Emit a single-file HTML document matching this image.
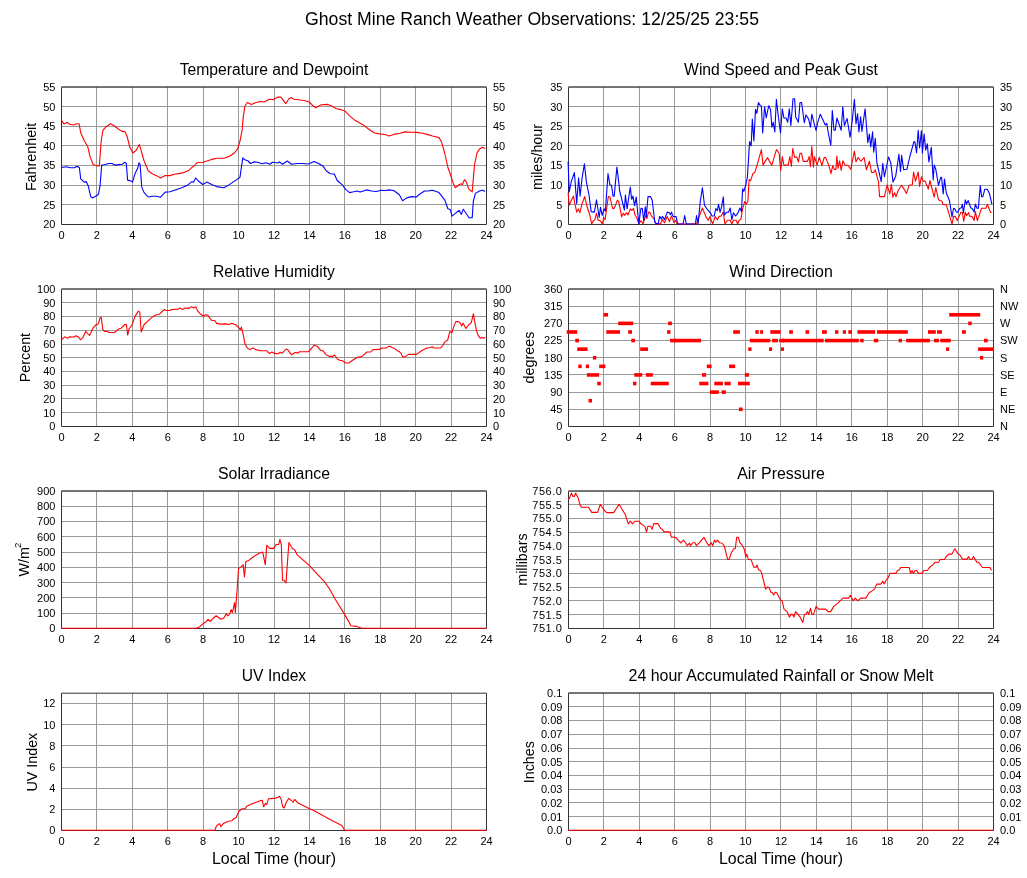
<!DOCTYPE html>
<html><head><meta charset="utf-8"><title>Ghost Mine Ranch Weather Observations</title>
<style>html,body{margin:0;padding:0;background:#fff;width:1027px;height:878px;overflow:hidden}</style></head>
<body>
<svg width="1027" height="878" viewBox="0 0 1027 878" style="font-family:'Liberation Sans',Arial,Helvetica,sans-serif;display:block" fill="#000">
<rect width="1027" height="878" fill="#fff"/>
<text x="532" y="25" font-size="18" text-anchor="middle" textLength="453.9" lengthAdjust="spacingAndGlyphs">Ghost Mine Ranch Weather Observations: 12/25/25 23:55</text>
<g stroke="#999" stroke-width="1">
<line x1="96.5" y1="87" x2="96.5" y2="224.5"/>
<line x1="132.5" y1="87" x2="132.5" y2="224.5"/>
<line x1="167.5" y1="87" x2="167.5" y2="224.5"/>
<line x1="203.5" y1="87" x2="203.5" y2="224.5"/>
<line x1="238.5" y1="87" x2="238.5" y2="224.5"/>
<line x1="274.5" y1="87" x2="274.5" y2="224.5"/>
<line x1="309.5" y1="87" x2="309.5" y2="224.5"/>
<line x1="344.5" y1="87" x2="344.5" y2="224.5"/>
<line x1="380.5" y1="87" x2="380.5" y2="224.5"/>
<line x1="415.5" y1="87" x2="415.5" y2="224.5"/>
<line x1="451.5" y1="87" x2="451.5" y2="224.5"/>
<line x1="61.5" y1="204.5" x2="486.5" y2="204.5"/>
<line x1="61.5" y1="185.5" x2="486.5" y2="185.5"/>
<line x1="61.5" y1="165.5" x2="486.5" y2="165.5"/>
<line x1="61.5" y1="145.5" x2="486.5" y2="145.5"/>
<line x1="61.5" y1="126.5" x2="486.5" y2="126.5"/>
<line x1="61.5" y1="106.5" x2="486.5" y2="106.5"/>
<line x1="61.5" y1="86.5" x2="486.5" y2="86.5"/>
</g>
<path d="M61.5,87.2H486.5V224.5H61.5Z" fill="none" stroke="#333" stroke-width="1"/>
<g font-size="11">
<text x="55.4" y="228.4" text-anchor="end">20</text>
<text x="493" y="228.4">20</text>
<text x="55.4" y="208.76" text-anchor="end">25</text>
<text x="493" y="208.76">25</text>
<text x="55.4" y="189.11" text-anchor="end">30</text>
<text x="493" y="189.11">30</text>
<text x="55.4" y="169.47" text-anchor="end">35</text>
<text x="493" y="169.47">35</text>
<text x="55.4" y="149.83" text-anchor="end">40</text>
<text x="493" y="149.83">40</text>
<text x="55.4" y="130.19" text-anchor="end">45</text>
<text x="493" y="130.19">45</text>
<text x="55.4" y="110.54" text-anchor="end">50</text>
<text x="493" y="110.54">50</text>
<text x="55.4" y="90.9" text-anchor="end">55</text>
<text x="493" y="90.9">55</text>
<text x="61.5" y="239.2" text-anchor="middle">0</text>
<text x="96.92" y="239.2" text-anchor="middle">2</text>
<text x="132.33" y="239.2" text-anchor="middle">4</text>
<text x="167.75" y="239.2" text-anchor="middle">6</text>
<text x="203.17" y="239.2" text-anchor="middle">8</text>
<text x="238.58" y="239.2" text-anchor="middle">10</text>
<text x="274" y="239.2" text-anchor="middle">12</text>
<text x="309.42" y="239.2" text-anchor="middle">14</text>
<text x="344.83" y="239.2" text-anchor="middle">16</text>
<text x="380.25" y="239.2" text-anchor="middle">18</text>
<text x="415.67" y="239.2" text-anchor="middle">20</text>
<text x="451.08" y="239.2" text-anchor="middle">22</text>
<text x="486.5" y="239.2" text-anchor="middle">24</text>
</g>
<text x="274" y="75" font-size="15.8" text-anchor="middle" textLength="188.7" lengthAdjust="spacingAndGlyphs">Temperature and Dewpoint</text>
<text transform="translate(35.5,156.95) rotate(-90)" font-size="14.3" text-anchor="middle">Fahrenheit</text>
<g stroke="#999" stroke-width="1">
<line x1="603.5" y1="87" x2="603.5" y2="224.5"/>
<line x1="639.5" y1="87" x2="639.5" y2="224.5"/>
<line x1="674.5" y1="87" x2="674.5" y2="224.5"/>
<line x1="710.5" y1="87" x2="710.5" y2="224.5"/>
<line x1="745.5" y1="87" x2="745.5" y2="224.5"/>
<line x1="780.5" y1="87" x2="780.5" y2="224.5"/>
<line x1="816.5" y1="87" x2="816.5" y2="224.5"/>
<line x1="851.5" y1="87" x2="851.5" y2="224.5"/>
<line x1="887.5" y1="87" x2="887.5" y2="224.5"/>
<line x1="922.5" y1="87" x2="922.5" y2="224.5"/>
<line x1="958.5" y1="87" x2="958.5" y2="224.5"/>
<line x1="568.5" y1="204.5" x2="993.5" y2="204.5"/>
<line x1="568.5" y1="185.5" x2="993.5" y2="185.5"/>
<line x1="568.5" y1="165.5" x2="993.5" y2="165.5"/>
<line x1="568.5" y1="145.5" x2="993.5" y2="145.5"/>
<line x1="568.5" y1="126.5" x2="993.5" y2="126.5"/>
<line x1="568.5" y1="106.5" x2="993.5" y2="106.5"/>
<line x1="568.5" y1="86.5" x2="993.5" y2="86.5"/>
</g>
<path d="M568.5,87.2H993.5V224.5H568.5Z" fill="none" stroke="#333" stroke-width="1"/>
<g font-size="11">
<text x="562.4" y="228.4" text-anchor="end">0</text>
<text x="1000" y="228.4">0</text>
<text x="562.4" y="208.76" text-anchor="end">5</text>
<text x="1000" y="208.76">5</text>
<text x="562.4" y="189.11" text-anchor="end">10</text>
<text x="1000" y="189.11">10</text>
<text x="562.4" y="169.47" text-anchor="end">15</text>
<text x="1000" y="169.47">15</text>
<text x="562.4" y="149.83" text-anchor="end">20</text>
<text x="1000" y="149.83">20</text>
<text x="562.4" y="130.19" text-anchor="end">25</text>
<text x="1000" y="130.19">25</text>
<text x="562.4" y="110.54" text-anchor="end">30</text>
<text x="1000" y="110.54">30</text>
<text x="562.4" y="90.9" text-anchor="end">35</text>
<text x="1000" y="90.9">35</text>
<text x="568.5" y="239.2" text-anchor="middle">0</text>
<text x="603.92" y="239.2" text-anchor="middle">2</text>
<text x="639.33" y="239.2" text-anchor="middle">4</text>
<text x="674.75" y="239.2" text-anchor="middle">6</text>
<text x="710.17" y="239.2" text-anchor="middle">8</text>
<text x="745.58" y="239.2" text-anchor="middle">10</text>
<text x="781" y="239.2" text-anchor="middle">12</text>
<text x="816.42" y="239.2" text-anchor="middle">14</text>
<text x="851.83" y="239.2" text-anchor="middle">16</text>
<text x="887.25" y="239.2" text-anchor="middle">18</text>
<text x="922.67" y="239.2" text-anchor="middle">20</text>
<text x="958.08" y="239.2" text-anchor="middle">22</text>
<text x="993.5" y="239.2" text-anchor="middle">24</text>
</g>
<text x="781" y="75" font-size="15.8" text-anchor="middle" textLength="193.9" lengthAdjust="spacingAndGlyphs">Wind Speed and Peak Gust</text>
<text transform="translate(542,156.95) rotate(-90)" font-size="14.3" text-anchor="middle">miles/hour</text>
<g stroke="#999" stroke-width="1">
<line x1="96.5" y1="289" x2="96.5" y2="426.5"/>
<line x1="132.5" y1="289" x2="132.5" y2="426.5"/>
<line x1="167.5" y1="289" x2="167.5" y2="426.5"/>
<line x1="203.5" y1="289" x2="203.5" y2="426.5"/>
<line x1="238.5" y1="289" x2="238.5" y2="426.5"/>
<line x1="274.5" y1="289" x2="274.5" y2="426.5"/>
<line x1="309.5" y1="289" x2="309.5" y2="426.5"/>
<line x1="344.5" y1="289" x2="344.5" y2="426.5"/>
<line x1="380.5" y1="289" x2="380.5" y2="426.5"/>
<line x1="415.5" y1="289" x2="415.5" y2="426.5"/>
<line x1="451.5" y1="289" x2="451.5" y2="426.5"/>
<line x1="61.5" y1="412.5" x2="486.5" y2="412.5"/>
<line x1="61.5" y1="398.5" x2="486.5" y2="398.5"/>
<line x1="61.5" y1="385.5" x2="486.5" y2="385.5"/>
<line x1="61.5" y1="371.5" x2="486.5" y2="371.5"/>
<line x1="61.5" y1="357.5" x2="486.5" y2="357.5"/>
<line x1="61.5" y1="344.5" x2="486.5" y2="344.5"/>
<line x1="61.5" y1="330.5" x2="486.5" y2="330.5"/>
<line x1="61.5" y1="316.5" x2="486.5" y2="316.5"/>
<line x1="61.5" y1="302.5" x2="486.5" y2="302.5"/>
<line x1="61.5" y1="288.5" x2="486.5" y2="288.5"/>
</g>
<path d="M61.5,289.2H486.5V426.5H61.5Z" fill="none" stroke="#333" stroke-width="1"/>
<g font-size="11">
<text x="55.4" y="430.4" text-anchor="end">0</text>
<text x="493" y="430.4">0</text>
<text x="55.4" y="416.65" text-anchor="end">10</text>
<text x="493" y="416.65">10</text>
<text x="55.4" y="402.9" text-anchor="end">20</text>
<text x="493" y="402.9">20</text>
<text x="55.4" y="389.15" text-anchor="end">30</text>
<text x="493" y="389.15">30</text>
<text x="55.4" y="375.4" text-anchor="end">40</text>
<text x="493" y="375.4">40</text>
<text x="55.4" y="361.65" text-anchor="end">50</text>
<text x="493" y="361.65">50</text>
<text x="55.4" y="347.9" text-anchor="end">60</text>
<text x="493" y="347.9">60</text>
<text x="55.4" y="334.15" text-anchor="end">70</text>
<text x="493" y="334.15">70</text>
<text x="55.4" y="320.4" text-anchor="end">80</text>
<text x="493" y="320.4">80</text>
<text x="55.4" y="306.65" text-anchor="end">90</text>
<text x="493" y="306.65">90</text>
<text x="55.4" y="292.9" text-anchor="end">100</text>
<text x="493" y="292.9">100</text>
<text x="61.5" y="441.2" text-anchor="middle">0</text>
<text x="96.92" y="441.2" text-anchor="middle">2</text>
<text x="132.33" y="441.2" text-anchor="middle">4</text>
<text x="167.75" y="441.2" text-anchor="middle">6</text>
<text x="203.17" y="441.2" text-anchor="middle">8</text>
<text x="238.58" y="441.2" text-anchor="middle">10</text>
<text x="274" y="441.2" text-anchor="middle">12</text>
<text x="309.42" y="441.2" text-anchor="middle">14</text>
<text x="344.83" y="441.2" text-anchor="middle">16</text>
<text x="380.25" y="441.2" text-anchor="middle">18</text>
<text x="415.67" y="441.2" text-anchor="middle">20</text>
<text x="451.08" y="441.2" text-anchor="middle">22</text>
<text x="486.5" y="441.2" text-anchor="middle">24</text>
</g>
<text x="274" y="277" font-size="15.8" text-anchor="middle" textLength="121.9" lengthAdjust="spacingAndGlyphs">Relative Humidity</text>
<text transform="translate(30,357.55) rotate(-90)" font-size="14.3" text-anchor="middle">Percent</text>
<g stroke="#999" stroke-width="1">
<line x1="603.5" y1="289" x2="603.5" y2="426.5"/>
<line x1="639.5" y1="289" x2="639.5" y2="426.5"/>
<line x1="674.5" y1="289" x2="674.5" y2="426.5"/>
<line x1="710.5" y1="289" x2="710.5" y2="426.5"/>
<line x1="745.5" y1="289" x2="745.5" y2="426.5"/>
<line x1="780.5" y1="289" x2="780.5" y2="426.5"/>
<line x1="816.5" y1="289" x2="816.5" y2="426.5"/>
<line x1="851.5" y1="289" x2="851.5" y2="426.5"/>
<line x1="887.5" y1="289" x2="887.5" y2="426.5"/>
<line x1="922.5" y1="289" x2="922.5" y2="426.5"/>
<line x1="958.5" y1="289" x2="958.5" y2="426.5"/>
<line x1="568.5" y1="409.5" x2="993.5" y2="409.5"/>
<line x1="568.5" y1="392.5" x2="993.5" y2="392.5"/>
<line x1="568.5" y1="374.5" x2="993.5" y2="374.5"/>
<line x1="568.5" y1="357.5" x2="993.5" y2="357.5"/>
<line x1="568.5" y1="340.5" x2="993.5" y2="340.5"/>
<line x1="568.5" y1="323.5" x2="993.5" y2="323.5"/>
<line x1="568.5" y1="306.5" x2="993.5" y2="306.5"/>
<line x1="568.5" y1="288.5" x2="993.5" y2="288.5"/>
</g>
<path d="M568.5,289.2H993.5V426.5H568.5Z" fill="none" stroke="#333" stroke-width="1"/>
<g font-size="11">
<text x="562.4" y="430.4" text-anchor="end">0</text>
<text x="1000" y="430.4">N</text>
<text x="562.4" y="413.21" text-anchor="end">45</text>
<text x="1000" y="413.21">NE</text>
<text x="562.4" y="396.02" text-anchor="end">90</text>
<text x="1000" y="396.02">E</text>
<text x="562.4" y="378.84" text-anchor="end">135</text>
<text x="1000" y="378.84">SE</text>
<text x="562.4" y="361.65" text-anchor="end">180</text>
<text x="1000" y="361.65">S</text>
<text x="562.4" y="344.46" text-anchor="end">225</text>
<text x="1000" y="344.46">SW</text>
<text x="562.4" y="327.27" text-anchor="end">270</text>
<text x="1000" y="327.27">W</text>
<text x="562.4" y="310.09" text-anchor="end">315</text>
<text x="1000" y="310.09">NW</text>
<text x="562.4" y="292.9" text-anchor="end">360</text>
<text x="1000" y="292.9">N</text>
<text x="568.5" y="441.2" text-anchor="middle">0</text>
<text x="603.92" y="441.2" text-anchor="middle">2</text>
<text x="639.33" y="441.2" text-anchor="middle">4</text>
<text x="674.75" y="441.2" text-anchor="middle">6</text>
<text x="710.17" y="441.2" text-anchor="middle">8</text>
<text x="745.58" y="441.2" text-anchor="middle">10</text>
<text x="781" y="441.2" text-anchor="middle">12</text>
<text x="816.42" y="441.2" text-anchor="middle">14</text>
<text x="851.83" y="441.2" text-anchor="middle">16</text>
<text x="887.25" y="441.2" text-anchor="middle">18</text>
<text x="922.67" y="441.2" text-anchor="middle">20</text>
<text x="958.08" y="441.2" text-anchor="middle">22</text>
<text x="993.5" y="441.2" text-anchor="middle">24</text>
</g>
<text x="781" y="277" font-size="15.8" text-anchor="middle" textLength="103.5" lengthAdjust="spacingAndGlyphs">Wind Direction</text>
<text transform="translate(534,357.55) rotate(-90)" font-size="14.3" text-anchor="middle">degrees</text>
<g stroke="#999" stroke-width="1">
<line x1="96.5" y1="491" x2="96.5" y2="628.5"/>
<line x1="132.5" y1="491" x2="132.5" y2="628.5"/>
<line x1="167.5" y1="491" x2="167.5" y2="628.5"/>
<line x1="203.5" y1="491" x2="203.5" y2="628.5"/>
<line x1="238.5" y1="491" x2="238.5" y2="628.5"/>
<line x1="274.5" y1="491" x2="274.5" y2="628.5"/>
<line x1="309.5" y1="491" x2="309.5" y2="628.5"/>
<line x1="344.5" y1="491" x2="344.5" y2="628.5"/>
<line x1="380.5" y1="491" x2="380.5" y2="628.5"/>
<line x1="415.5" y1="491" x2="415.5" y2="628.5"/>
<line x1="451.5" y1="491" x2="451.5" y2="628.5"/>
<line x1="61.5" y1="613.5" x2="486.5" y2="613.5"/>
<line x1="61.5" y1="597.5" x2="486.5" y2="597.5"/>
<line x1="61.5" y1="582.5" x2="486.5" y2="582.5"/>
<line x1="61.5" y1="567.5" x2="486.5" y2="567.5"/>
<line x1="61.5" y1="552.5" x2="486.5" y2="552.5"/>
<line x1="61.5" y1="536.5" x2="486.5" y2="536.5"/>
<line x1="61.5" y1="521.5" x2="486.5" y2="521.5"/>
<line x1="61.5" y1="506.5" x2="486.5" y2="506.5"/>
<line x1="61.5" y1="490.5" x2="486.5" y2="490.5"/>
</g>
<path d="M61.5,491.2H486.5V628.5H61.5Z" fill="none" stroke="#333" stroke-width="1"/>
<g font-size="11">
<text x="55.4" y="632.4" text-anchor="end">0</text>
<text x="55.4" y="617.12" text-anchor="end">100</text>
<text x="55.4" y="601.84" text-anchor="end">200</text>
<text x="55.4" y="586.57" text-anchor="end">300</text>
<text x="55.4" y="571.29" text-anchor="end">400</text>
<text x="55.4" y="556.01" text-anchor="end">500</text>
<text x="55.4" y="540.73" text-anchor="end">600</text>
<text x="55.4" y="525.46" text-anchor="end">700</text>
<text x="55.4" y="510.18" text-anchor="end">800</text>
<text x="55.4" y="494.9" text-anchor="end">900</text>
<text x="61.5" y="643.2" text-anchor="middle">0</text>
<text x="96.92" y="643.2" text-anchor="middle">2</text>
<text x="132.33" y="643.2" text-anchor="middle">4</text>
<text x="167.75" y="643.2" text-anchor="middle">6</text>
<text x="203.17" y="643.2" text-anchor="middle">8</text>
<text x="238.58" y="643.2" text-anchor="middle">10</text>
<text x="274" y="643.2" text-anchor="middle">12</text>
<text x="309.42" y="643.2" text-anchor="middle">14</text>
<text x="344.83" y="643.2" text-anchor="middle">16</text>
<text x="380.25" y="643.2" text-anchor="middle">18</text>
<text x="415.67" y="643.2" text-anchor="middle">20</text>
<text x="451.08" y="643.2" text-anchor="middle">22</text>
<text x="486.5" y="643.2" text-anchor="middle">24</text>
</g>
<text x="274" y="479" font-size="15.8" text-anchor="middle" textLength="111.9" lengthAdjust="spacingAndGlyphs">Solar Irradiance</text>
<text transform="translate(29.1,559.55) rotate(-90)" font-size="14.3" text-anchor="middle">W/m<tspan font-size="9.6" dx="-1" dy="-8">2</tspan></text>
<g stroke="#999" stroke-width="1">
<line x1="603.5" y1="491" x2="603.5" y2="628.5"/>
<line x1="639.5" y1="491" x2="639.5" y2="628.5"/>
<line x1="674.5" y1="491" x2="674.5" y2="628.5"/>
<line x1="710.5" y1="491" x2="710.5" y2="628.5"/>
<line x1="745.5" y1="491" x2="745.5" y2="628.5"/>
<line x1="780.5" y1="491" x2="780.5" y2="628.5"/>
<line x1="816.5" y1="491" x2="816.5" y2="628.5"/>
<line x1="851.5" y1="491" x2="851.5" y2="628.5"/>
<line x1="887.5" y1="491" x2="887.5" y2="628.5"/>
<line x1="922.5" y1="491" x2="922.5" y2="628.5"/>
<line x1="958.5" y1="491" x2="958.5" y2="628.5"/>
<line x1="568.5" y1="614.5" x2="993.5" y2="614.5"/>
<line x1="568.5" y1="600.5" x2="993.5" y2="600.5"/>
<line x1="568.5" y1="587.5" x2="993.5" y2="587.5"/>
<line x1="568.5" y1="573.5" x2="993.5" y2="573.5"/>
<line x1="568.5" y1="559.5" x2="993.5" y2="559.5"/>
<line x1="568.5" y1="546.5" x2="993.5" y2="546.5"/>
<line x1="568.5" y1="532.5" x2="993.5" y2="532.5"/>
<line x1="568.5" y1="518.5" x2="993.5" y2="518.5"/>
<line x1="568.5" y1="504.5" x2="993.5" y2="504.5"/>
<line x1="568.5" y1="490.5" x2="993.5" y2="490.5"/>
</g>
<path d="M568.5,491.2H993.5V628.5H568.5Z" fill="none" stroke="#333" stroke-width="1"/>
<g font-size="11">
<text x="562.4" y="632.4" text-anchor="end" letter-spacing="0.5">751.0</text>
<text x="562.4" y="618.65" text-anchor="end" letter-spacing="0.5">751.5</text>
<text x="562.4" y="604.9" text-anchor="end" letter-spacing="0.5">752.0</text>
<text x="562.4" y="591.15" text-anchor="end" letter-spacing="0.5">752.5</text>
<text x="562.4" y="577.4" text-anchor="end" letter-spacing="0.5">753.0</text>
<text x="562.4" y="563.65" text-anchor="end" letter-spacing="0.5">753.5</text>
<text x="562.4" y="549.9" text-anchor="end" letter-spacing="0.5">754.0</text>
<text x="562.4" y="536.15" text-anchor="end" letter-spacing="0.5">754.5</text>
<text x="562.4" y="522.4" text-anchor="end" letter-spacing="0.5">755.0</text>
<text x="562.4" y="508.65" text-anchor="end" letter-spacing="0.5">755.5</text>
<text x="562.4" y="494.9" text-anchor="end" letter-spacing="0.5">756.0</text>
<text x="568.5" y="643.2" text-anchor="middle">0</text>
<text x="603.92" y="643.2" text-anchor="middle">2</text>
<text x="639.33" y="643.2" text-anchor="middle">4</text>
<text x="674.75" y="643.2" text-anchor="middle">6</text>
<text x="710.17" y="643.2" text-anchor="middle">8</text>
<text x="745.58" y="643.2" text-anchor="middle">10</text>
<text x="781" y="643.2" text-anchor="middle">12</text>
<text x="816.42" y="643.2" text-anchor="middle">14</text>
<text x="851.83" y="643.2" text-anchor="middle">16</text>
<text x="887.25" y="643.2" text-anchor="middle">18</text>
<text x="922.67" y="643.2" text-anchor="middle">20</text>
<text x="958.08" y="643.2" text-anchor="middle">22</text>
<text x="993.5" y="643.2" text-anchor="middle">24</text>
</g>
<text x="781" y="479" font-size="15.8" text-anchor="middle" textLength="87.6" lengthAdjust="spacingAndGlyphs">Air Pressure</text>
<text transform="translate(527,559.55) rotate(-90)" font-size="14.3" text-anchor="middle">millibars</text>
<g stroke="#999" stroke-width="1">
<line x1="96.5" y1="693" x2="96.5" y2="830.5"/>
<line x1="132.5" y1="693" x2="132.5" y2="830.5"/>
<line x1="167.5" y1="693" x2="167.5" y2="830.5"/>
<line x1="203.5" y1="693" x2="203.5" y2="830.5"/>
<line x1="238.5" y1="693" x2="238.5" y2="830.5"/>
<line x1="274.5" y1="693" x2="274.5" y2="830.5"/>
<line x1="309.5" y1="693" x2="309.5" y2="830.5"/>
<line x1="344.5" y1="693" x2="344.5" y2="830.5"/>
<line x1="380.5" y1="693" x2="380.5" y2="830.5"/>
<line x1="415.5" y1="693" x2="415.5" y2="830.5"/>
<line x1="451.5" y1="693" x2="451.5" y2="830.5"/>
<line x1="61.5" y1="809.5" x2="486.5" y2="809.5"/>
<line x1="61.5" y1="788.5" x2="486.5" y2="788.5"/>
<line x1="61.5" y1="767.5" x2="486.5" y2="767.5"/>
<line x1="61.5" y1="745.5" x2="486.5" y2="745.5"/>
<line x1="61.5" y1="724.5" x2="486.5" y2="724.5"/>
<line x1="61.5" y1="703.5" x2="486.5" y2="703.5"/>
</g>
<path d="M61.5,693.2H486.5V830.5H61.5Z" fill="none" stroke="#333" stroke-width="1"/>
<g font-size="11">
<text x="55.4" y="834.4" text-anchor="end">0</text>
<text x="55.4" y="813.25" text-anchor="end">2</text>
<text x="55.4" y="792.09" text-anchor="end">4</text>
<text x="55.4" y="770.94" text-anchor="end">6</text>
<text x="55.4" y="749.78" text-anchor="end">8</text>
<text x="55.4" y="728.63" text-anchor="end">10</text>
<text x="55.4" y="707.48" text-anchor="end">12</text>
<text x="61.5" y="845.2" text-anchor="middle">0</text>
<text x="96.92" y="845.2" text-anchor="middle">2</text>
<text x="132.33" y="845.2" text-anchor="middle">4</text>
<text x="167.75" y="845.2" text-anchor="middle">6</text>
<text x="203.17" y="845.2" text-anchor="middle">8</text>
<text x="238.58" y="845.2" text-anchor="middle">10</text>
<text x="274" y="845.2" text-anchor="middle">12</text>
<text x="309.42" y="845.2" text-anchor="middle">14</text>
<text x="344.83" y="845.2" text-anchor="middle">16</text>
<text x="380.25" y="845.2" text-anchor="middle">18</text>
<text x="415.67" y="845.2" text-anchor="middle">20</text>
<text x="451.08" y="845.2" text-anchor="middle">22</text>
<text x="486.5" y="845.2" text-anchor="middle">24</text>
</g>
<text x="274" y="681" font-size="15.8" text-anchor="middle" textLength="64.4" lengthAdjust="spacingAndGlyphs">UV Index</text>
<text transform="translate(36.5,762.15) rotate(-90)" font-size="14.3" text-anchor="middle">UV Index</text>
<text x="274" y="863.8" font-size="16" text-anchor="middle" textLength="124" lengthAdjust="spacingAndGlyphs">Local Time (hour)</text>
<g stroke="#999" stroke-width="1">
<line x1="603.5" y1="693" x2="603.5" y2="830.5"/>
<line x1="639.5" y1="693" x2="639.5" y2="830.5"/>
<line x1="674.5" y1="693" x2="674.5" y2="830.5"/>
<line x1="710.5" y1="693" x2="710.5" y2="830.5"/>
<line x1="745.5" y1="693" x2="745.5" y2="830.5"/>
<line x1="780.5" y1="693" x2="780.5" y2="830.5"/>
<line x1="816.5" y1="693" x2="816.5" y2="830.5"/>
<line x1="851.5" y1="693" x2="851.5" y2="830.5"/>
<line x1="887.5" y1="693" x2="887.5" y2="830.5"/>
<line x1="922.5" y1="693" x2="922.5" y2="830.5"/>
<line x1="958.5" y1="693" x2="958.5" y2="830.5"/>
<line x1="568.5" y1="816.5" x2="993.5" y2="816.5"/>
<line x1="568.5" y1="802.5" x2="993.5" y2="802.5"/>
<line x1="568.5" y1="789.5" x2="993.5" y2="789.5"/>
<line x1="568.5" y1="775.5" x2="993.5" y2="775.5"/>
<line x1="568.5" y1="761.5" x2="993.5" y2="761.5"/>
<line x1="568.5" y1="748.5" x2="993.5" y2="748.5"/>
<line x1="568.5" y1="734.5" x2="993.5" y2="734.5"/>
<line x1="568.5" y1="720.5" x2="993.5" y2="720.5"/>
<line x1="568.5" y1="706.5" x2="993.5" y2="706.5"/>
<line x1="568.5" y1="692.5" x2="993.5" y2="692.5"/>
</g>
<path d="M568.5,693.2H993.5V830.5H568.5Z" fill="none" stroke="#333" stroke-width="1"/>
<g font-size="11">
<text x="562.4" y="834.4" text-anchor="end">0.0</text>
<text x="1000" y="834.4">0.0</text>
<text x="562.4" y="820.65" text-anchor="end">0.01</text>
<text x="1000" y="820.65">0.01</text>
<text x="562.4" y="806.9" text-anchor="end">0.02</text>
<text x="1000" y="806.9">0.02</text>
<text x="562.4" y="793.15" text-anchor="end">0.03</text>
<text x="1000" y="793.15">0.03</text>
<text x="562.4" y="779.4" text-anchor="end">0.04</text>
<text x="1000" y="779.4">0.04</text>
<text x="562.4" y="765.65" text-anchor="end">0.05</text>
<text x="1000" y="765.65">0.05</text>
<text x="562.4" y="751.9" text-anchor="end">0.06</text>
<text x="1000" y="751.9">0.06</text>
<text x="562.4" y="738.15" text-anchor="end">0.07</text>
<text x="1000" y="738.15">0.07</text>
<text x="562.4" y="724.4" text-anchor="end">0.08</text>
<text x="1000" y="724.4">0.08</text>
<text x="562.4" y="710.65" text-anchor="end">0.09</text>
<text x="1000" y="710.65">0.09</text>
<text x="562.4" y="696.9" text-anchor="end">0.1</text>
<text x="1000" y="696.9">0.1</text>
<text x="568.5" y="845.2" text-anchor="middle">0</text>
<text x="603.92" y="845.2" text-anchor="middle">2</text>
<text x="639.33" y="845.2" text-anchor="middle">4</text>
<text x="674.75" y="845.2" text-anchor="middle">6</text>
<text x="710.17" y="845.2" text-anchor="middle">8</text>
<text x="745.58" y="845.2" text-anchor="middle">10</text>
<text x="781" y="845.2" text-anchor="middle">12</text>
<text x="816.42" y="845.2" text-anchor="middle">14</text>
<text x="851.83" y="845.2" text-anchor="middle">16</text>
<text x="887.25" y="845.2" text-anchor="middle">18</text>
<text x="922.67" y="845.2" text-anchor="middle">20</text>
<text x="958.08" y="845.2" text-anchor="middle">22</text>
<text x="993.5" y="845.2" text-anchor="middle">24</text>
</g>
<text x="781" y="681" font-size="15.8" text-anchor="middle" textLength="304.8" lengthAdjust="spacingAndGlyphs">24 hour Accumulated Rainfall or Snow Melt</text>
<text transform="translate(533.7,762.15) rotate(-90)" font-size="14.3" text-anchor="middle">Inches</text>
<text x="781" y="863.8" font-size="16" text-anchor="middle" textLength="124" lengthAdjust="spacingAndGlyphs">Local Time (hour)</text>
<polyline points="61.6,120.6 64,123.8 67.3,122.5 69.7,124.2 73.8,125 77,123.8 79.1,123.8 80.7,132.7 84.3,140.8 87.8,146.8 89.9,156.2 93.2,164.6 97.2,165.9 99.3,165.9 101.3,140 102.9,130.3 106.1,126.7 110.5,123.8 114.2,125.8 118.3,129 121.5,131.1 125.2,131.9 127.2,136.8 129.6,146.5 132.8,153 136,150.5 139.3,144.5 140.9,149.7 144.1,161 148.2,170.8 152.2,173.7 157.1,175.9 160.6,178 165.2,175.6 170,175.6 174.5,174.3 182.6,172.9 188.2,170.8 191.5,167.8 194.2,165.9 197.1,162.7 202.8,162.2 206.8,161 211.7,159.4 217.4,158.3 224.6,158.1 229.5,156.2 234.3,153 237.6,148.9 240,140.8 242.1,130.3 243.2,117.4 244.9,106 247.3,102.5 251.3,104.4 255.4,102.8 260.2,101.5 264.3,102 269.1,99.2 273.2,99.6 278,97.1 280.9,97.1 283.3,100.4 285.7,103.6 288.9,98.8 291.4,97.6 293.8,99.2 300.3,100 305.1,100.7 309.2,102 312.4,105.2 315.6,107.7 321.3,104.7 327.8,104.4 331.8,106 335.9,108.5 340.7,109.6 344.8,110.9 350.4,116.6 355.3,120.6 363.4,125.1 368.2,128.7 373.9,132.7 379.6,133.9 386,134.8 388.9,136 393.7,134.4 400.2,133.2 405,131.9 411.5,132.2 416.4,132.4 422.8,133.2 426.9,134.4 432.5,136 439,137.6 441.4,141.6 444.7,153 447.9,167.5 450.3,174 452.8,182.1 455.2,187.8 458.4,185.3 460.9,183.7 462.5,184.5 464.4,179.7 466.5,182.1 468.5,188.6 472.2,191.8 473.3,178.9 474.6,164.3 477,153 479.5,148.9 482.7,147.3 485.1,148.4" fill="none" stroke="#ff0000" stroke-width="1.1" stroke-linejoin="round"/>
<polyline points="61.6,167.5 66.5,166.7 70.5,167.8 74.6,167.8 77,166.2 79.4,167.8 80.7,178.9 84.3,182.1 86.2,181.6 88.3,186.1 90.7,196.6 92.4,198 95.6,196.3 98.5,194.2 100.1,185.3 101.7,165.1 104.5,164.8 108.5,163.5 111.8,163.5 115,165.1 119.1,164.6 122.3,164.3 124.7,162.2 126.3,163.5 127.6,180.1 130.4,180.8 132.5,182.1 135.2,173.2 137.7,168.3 139,162.7 140.1,164.3 141.7,186.9 144.1,192.6 148.2,197 152.2,196.3 156.3,196.3 160.3,197.3 165.2,192.1 170,191.8 174.5,190.2 181.8,187.8 187.4,185.3 191.5,181.8 193.6,182.1 195.8,178 198.7,181.3 202.8,184.5 206.8,182.1 211.7,184.5 216.5,186.6 223.8,187.8 227.1,186.1 231.1,183.4 236,180.1 240,177.2 241.6,165.9 242.8,157.8 244.9,159.8 248.1,161 250.5,163.5 253.8,161.9 257.8,162.3 261.9,163.8 265.9,162.7 269.9,164.3 272.4,162.3 278,163 279.2,161.9 282.5,164.3 287.3,161 291.4,164.3 297,163.5 301.9,163.5 308.4,164 314,161.4 318.1,163.2 322.9,165.9 326.2,170.8 330.2,173.7 334.3,174 337.2,180.5 342.3,184.8 345.6,189.4 349.6,192.6 353.7,191.8 356.9,191 360.1,192.1 366.6,189.9 371.5,191 376.3,191.5 381.2,190.2 386,190.5 388.9,189.9 393.7,190.5 399.4,194.7 402.6,200.7 406.7,197.9 411.5,196.6 416.4,197 419.6,194.2 424.5,191 427.7,191 432.5,190.2 439,192.6 444.7,199.9 447.9,208.8 450.3,209.6 452,216.1 456,212.8 459.2,210.4 461.3,214.4 463.3,209.3 465.7,212.8 469,217.7 472.2,217.7 473.3,201.5 475.4,193.4 479.5,191 482.7,190.2 485.1,191.5" fill="none" stroke="#0000ff" stroke-width="1.1" stroke-linejoin="round"/>
<polyline points="568.1,192.8 569.2,205.2 571.4,200.3 573.5,196.1 574.6,202.5 576.7,212.1 578.3,208.9 579.9,212.7 582.1,203.6 584.7,196.6 587.4,207.8 589.6,214.3 591.7,223.9 593.3,220.7 594.9,219.6 596.5,213.2 598.1,220.2 600.3,220.7 602.4,223.9 603.7,217.5 605.1,219.6 608.3,196.6 609.9,197.1 612.6,208.4 614.2,208.4 617.4,200.3 618.7,201.4 621.7,216.9 623.3,213.2 624.9,215.3 626.5,212.7 628.1,214.8 630.3,208.9 631.9,210.5 633.5,208.4 635.1,215.3 636.7,217.5 638.8,223.9 641,220.7 643.1,223.9 645.8,215.3 646.9,218.6 648.5,212.1 650.1,212.7 651.7,216.4 653.8,218.6 656,223.9 660.3,223.9 662.4,219.6 664.5,222.8 667.2,216.4 669.4,221.8 671.5,215.9 674,222.5 675.6,220.3 677.2,224 696.5,224 699.7,215 702.4,208 706.1,217.1 708.3,220.3 709.9,216.6 712.6,224 715.2,216.6 717.4,219.8 719,216.6 721.1,216 723.3,211.8 724.9,224 727.6,220.3 730.2,220.3 731.8,224 733.4,220.3 736.1,220.3 737.7,224 739.3,220.3 740.9,219.3 742.6,208.6 744.7,201.6 746.3,204.3 747.9,201.1 749.1,179.6 750.6,180.7 752.9,173.7 754.9,172.1 757.1,165.1 761.4,149.6 763,165.1 765.2,161.4 767.6,157.6 769.5,161.4 771.9,165.1 776.4,149.6 779.1,153.3 780.7,170.5 782.3,156.6 783.9,165.1 788.2,165.1 789.8,156.6 791.4,166.2 792.7,148.5 794.6,157.1 796.8,157.1 798.4,161.9 800,153.3 801.6,153.3 803.2,161.4 807.5,161.4 809.1,156.6 810.5,166.7 811.8,146.4 813.4,167.3 814.4,156.6 817.1,165.1 819.3,157.1 821.9,165.7 824.1,157.6 825.7,157.6 828.9,165.7 831,173.7 832.7,165.7 834.3,169.4 835.9,169.4 836.9,156 838,168.3 839.6,160.8 841.2,170.5 842.8,160.8 845,165.1 848,165.5 850.7,169.3 854.4,151.1 856,161.8 858.2,157.5 860.9,161.2 864.1,157.5 866.4,169.8 869.4,161.2 871.6,172.5 873.7,172.5 875.3,169.8 878.5,182.1 879.6,196.6 884.4,196.6 887.1,184.8 889.8,193.9 891.4,184.3 892.8,197.1 894.6,192.8 896,196.6 898.3,190.2 901.6,185.3 903.7,188.6 906.4,193.4 909.1,185.3 912.3,184.8 913.6,172 915.5,181.1 918.2,172 919.6,186.4 921.4,176.8 923,181.1 925.1,181.1 928.3,189.1 929.9,180.5 934.2,197.1 935.8,187.5 938.5,199.8 940,200.5 941.9,201.2 942.9,204.4 946.2,204.7 949.7,216.1 952,224.2 953.6,216.4 955.3,216.4 957.2,220.6 960.8,212.5 962.4,212.5 963.7,221.3 965.3,212.2 966.6,215.8 968.6,212.5 969.5,216.1 972.1,216.4 974.1,220.6 975.4,211.6 977.3,220.6 981.6,208.3 985.8,208.3 987.4,204.4 990.6,212.5 991.6,212.5" fill="none" stroke="#ff0000" stroke-width="1.1" stroke-linejoin="round"/>
<polyline points="568.1,161.8 569.2,191.8 571.4,181.1 574.4,172.5 576.7,203.6 578.6,177.8 580.1,196.1 582.1,177.8 584.4,163.9 586.4,182.1 589,195 591.2,211.6 594.4,212.1 596.5,199.8 599.2,217.5 600.5,207.3 602.2,215.3 604,208.9 605.4,211.1 608,173.6 609.9,184.8 611.5,185.3 613.1,196.3 614.2,196.1 616.9,167.1 618.5,180 619.6,190.7 624.4,210 625.4,195 627.1,208.9 630.3,187 631.6,199.3 632.9,196.1 634.6,205.7 636.2,197.1 638.8,223.5 641,208.4 642.3,208.4 643.7,220.7 645.3,206.8 646.3,216.4 648,196.6 650.6,196.6 652.2,200.3 654.9,222.8 658.1,223.9 659.7,216.4 661.3,219.1 662.4,216.4 664.5,219.6 667.2,212.1 669.4,212.7 670.4,214.8 671.5,212.1 673.1,216.4 676.1,216.6 677.7,224 683.1,224 684.7,215.5 686.3,224 695.4,224 696.5,215.5 698.1,224 700.2,202.1 702.4,187.7 704.5,205.3 706.7,208.6 710.4,212.8 712,216 714.2,216 715.8,208.6 717.4,210.7 718.5,204.3 720.1,212.3 721.7,206.4 723.3,196.8 724.3,215 726.5,212.3 728.6,212.3 730.2,208 731.8,219.8 733.4,212.8 735.6,216 737.7,213.4 739.9,208 741.5,211.8 742.6,188.7 743.8,191.4 745.8,185 747.4,176.9 749.6,141.6 751.2,145.8 752.3,119.1 753.9,141 755.5,109.4 756.9,113.2 758.4,102.5 760.4,105.7 761.4,106.2 762.7,133 764.6,106.7 766.2,118 768.7,105.7 770.5,109.4 771.9,127.1 773.2,122.3 774.8,131.9 776.4,99.2 778,113.7 780.5,133 782.3,108.9 783.9,118 786.1,118 787.7,122.3 789.3,108.9 790.9,125.5 793,98.7 794.6,98.7 795.7,116.9 798.4,122.3 800,102.5 801.6,102.5 804.3,122.8 805.9,114.8 808.6,119.1 810.5,127.1 811.8,114.2 813.9,122.3 816,130.3 817.7,122.3 820.3,114.2 823,120.1 825.2,125 826.8,123.3 828.4,133.5 830.8,145.3 832.3,110.5 834,130.3 835.3,130.3 836.9,118 841.2,130.3 842.8,106.7 844.4,125.5 847.1,118.5 850.1,137.3 852.3,120.1 854.4,99.2 856,123.9 857.6,113.7 858.9,131.9 860.6,116.9 861.9,131.4 865.1,108.9 867.8,142.6 869.4,134.1 870.7,146.9 872.6,131.9 873.7,152.3 875.3,138.3 876.9,162.9 881.2,181.6 882.8,163.4 884.4,176.8 888.5,157 890.8,162.9 893,182.1 895.7,176.2 898.9,154.3 900.5,171.4 901.6,155.4 903.7,169.8 906.9,169.3 909.6,157.5 913.9,141.6 914.9,142.1 916.6,152.8 918.2,130.3 919.6,148 921.4,130.8 922.4,153.3 924.1,134.1 925.7,150.1 927.3,143.7 928.9,161.9 931.3,147.4 933.2,180 934.2,165 935.8,169.3 938.5,185.3 940.7,177.3 941.6,177.5 943.2,194 944.5,179.1 946.2,192.7 949.4,200.5 952,216.8 953.6,208.3 954.9,209 956.6,212.2 957.9,212.2 959.5,208.6 961.4,207.7 962.4,204.4 963.4,212.9 965.3,199.9 966.6,203.8 968.2,200.5 970.8,207.7 972.5,209 974.1,211.9 975.4,204.1 977,208.3 978.3,208.3 980.3,185.6 981.6,196.6 982.9,196.6 984.8,189.2 987.4,189.2 989.4,193.4 991.9,204.4" fill="none" stroke="#0000ff" stroke-width="1.1" stroke-linejoin="round"/>
<polyline points="61.6,339.5 64.8,336.8 67.5,338.4 69.6,336.8 73.9,337 76.1,335.7 78.7,337.3 80.4,339.8 83,337.3 85.7,331.4 89.5,335.5 93.2,327.7 96.4,324.5 98.3,323.9 100.2,317.5 101.2,317.5 102.8,329.3 104.5,331.4 107.1,331.4 109.3,332.5 114.6,332.5 118.4,329.1 121.1,328.2 124.8,324.5 126.4,324.5 127.7,335.2 129.1,328.7 132,325 135,316.4 138.4,311.1 139.8,312.1 141.2,332 144.1,324.5 148.9,320.2 153.2,316.4 156.4,314.8 159.1,314.3 164.4,309.5 166,310.5 170,310.5 171.7,309.5 178.2,309.1 180.3,308.1 182.5,309.5 184.6,308.1 189.4,308.1 191.6,306.6 193.7,308.1 195.8,306.6 197.5,310.9 200.1,313.7 203.3,316.2 205.5,314.8 207.6,315.1 211.4,320.2 214.6,320.5 216.7,323.4 220.5,324.1 225.8,323.9 228.5,324.5 231.2,323.4 235.5,324.5 238.7,327.7 240.3,329.8 241.4,327.1 243,333.6 245.1,344.3 247.3,348 249.9,349.6 252.6,348 255.8,349.6 260.1,350.7 266.5,350.7 269.2,353.4 271.9,352 274.6,353.4 278.1,353.7 280.3,352.3 281.9,353.4 286.2,349.1 287.8,349.8 291.5,354.8 294.7,352.8 296.4,352.3 297.4,353.4 299.6,351.8 308.1,351.8 311.9,348 314,345.3 317.2,346.2 320.5,350.2 323.1,350.9 325.8,354.4 329.6,356.4 332.8,356.4 334.4,354.8 337.6,359.3 339.7,360.3 342.4,360.6 345.6,363 348.8,363 352.6,360.3 357.4,357.3 361.7,356.6 367,352 370.8,352 372.9,349.6 379.9,349.4 382,348 386.1,348 388.8,346.4 390.4,346.6 392.6,347.7 394.7,348.6 396.9,350.4 399.5,351.8 401.1,353.4 402.7,357.1 404.4,357.1 408.6,354.4 416.7,354.4 421.5,350.7 426.8,348 431.1,347.5 432.2,346.7 433.8,348 440.8,348 442.9,345.3 445.1,341.6 447.7,340 449.9,331.4 452,332.5 453.6,327.1 455.8,321.6 458.4,321.6 460,322.8 461.7,326.1 463,323.1 465.9,328.4 468.6,325 471.3,322.6 473.4,313.7 474.5,320.7 476.7,331.4 478.3,335.7 480.4,338.4 482,337.3 483.6,338.4 485.2,337.3" fill="none" stroke="#ff0000" stroke-width="1.1" stroke-linejoin="round"/>
<polyline points="61.5,628.2 196.3,628.2 199.8,626.7 203.7,623.2 206.1,621.7 208,619.3 210.4,621.3 213.1,618.2 216.2,615.8 220.9,619.3 223.6,618.2 226.3,613.9 227.9,615.8 230,613.5 231.1,609.6 232.5,612.5 234.6,602.6 235.4,612.5 237.2,588.1 238.6,568.3 240.7,567.2 243.2,564.6 244.4,577 245.9,561.6 248.8,560.4 253.4,556.7 259.2,553.2 262.7,552.1 265.3,564.8 266.8,545.3 269.7,548.4 273.8,548.4 276.1,544.5 278.8,544.5 279.9,539.3 281.3,544.5 282.5,580.2 284.2,580.2 286,582.9 288.9,542.5 292.3,548.4 294.7,549.7 297,554.6 300,557.3 309.3,565.4 315.1,571.8 324.4,581.7 329,588.1 334.8,598.5 344.1,613.6 348.2,620.6 350.9,625.8 356.9,626.4 361.6,628.2 486.5,628.2" fill="none" stroke="#ff0000" stroke-width="1.1" stroke-linejoin="round"/>
<polyline points="568.4,499.6 569.7,497.6 571.4,493.1 573,496.4 574.4,496.4 575.6,493.1 578.3,498.2 579.9,504.6 581.5,507.3 588.5,507.3 591.7,512.4 597.6,512.4 600.3,504.3 604,510 606.7,512.6 613.7,512.6 619,504.3 625.4,514.8 628.3,523.9 630.3,521 632.4,523.9 635.1,521.2 638.8,521.2 640.4,523.3 645,526.6 646.5,531.9 647.9,526.3 650.6,526.3 652.2,529.2 653.8,523.6 657.9,523.6 660.8,528.7 662.4,529.2 664,531.9 669.9,531.9 671.5,537.3 674,537.1 676.1,537.7 678.3,540.4 681,543 683.4,540.1 685.8,543 687.4,545.7 689.5,543 690.6,545.7 692.7,542.7 694.9,542.7 696.5,545.7 699.7,542.3 701.3,540.4 704,537.4 706.1,541.4 708.8,545.7 711.3,542.7 712.6,545.7 714.5,540.1 715.8,542.3 717.4,540.1 719.5,542.7 721.7,543 724.3,545.9 727.6,559.4 729.2,559.4 731.3,552.7 733.8,548.7 735.3,548.7 736.7,537.4 738.3,537.4 739.9,542.7 742,544.9 744.2,548.9 745.8,557 746.8,554.1 748.4,559.4 751.1,559.6 753.8,567.1 756.3,567.1 757,565 758.6,569.8 760.8,570.9 761.8,573.6 765.6,589.1 767.7,586.9 769.3,588 770.9,592.3 772.5,592.8 773.6,595 775.2,592.3 776.8,592.8 780.8,600.5 782.2,601.1 784,609.1 787.2,611.8 789.4,617.1 791,614.4 792.6,614.4 794,617.1 795.5,611.6 798,614.4 800.1,617.1 802.8,622.5 804.4,614.4 806,613.9 807.6,611.6 808.7,614.4 810.5,608.3 811.9,614.4 813.5,614.4 816.2,606.2 818.3,609.1 825.8,609.1 828,611.6 830.6,611.6 833.8,606.4 837.6,603.4 842.9,598.1 848.8,598.1 850.4,595.2 853.1,600.8 855.3,598.1 857.9,600.8 860.6,598.1 866,598.1 869.2,592.5 871.3,591.4 874.5,589.1 876.7,584.1 881,584.1 882.6,581.2 884.2,583.9 886.1,580.3 888.3,577.7 889.9,573.4 895.8,573.4 897.4,570.5 899.5,569.8 900.6,567.5 909.2,567.5 910.6,573.4 912.1,570.5 913.5,573.4 915.1,570.5 916.7,570.5 918.3,573.4 922,573.4 923.8,570.5 927.4,570.5 929,568 933.3,564.3 934.9,562.3 938.6,562.3 940.2,559.5 944.5,559.5 945.9,557 948.8,554.1 952,554.1 954.9,548.7 957.9,553.8 960.1,555.2 962.2,559.1 967,559.1 968.6,556.6 970.2,559.5 971.8,559.5 973.4,556.6 976.7,561.9 978.8,562.7 982.5,567.5 990,567.5 991.6,570.2" fill="none" stroke="#ff0000" stroke-width="1.1" stroke-linejoin="round"/>
<polyline points="61.5,830.2 214.8,830.2 216.4,826 219.5,823.6 221,826.7 223.1,823.6 224.9,822.8 228.8,821.3 231.9,820.8 233.5,818.9 236.1,817.4 238.9,811.2 242.1,808.8 245.2,808.8 246.7,806.2 251.4,804.1 256.9,802.1 260.8,800.6 262.3,800.3 263.6,806.8 265.4,803.4 266.7,804.6 268.5,798.7 274.8,798.4 279.5,796.4 281,798.7 282.6,806.5 284.1,808 286.5,801.8 288.8,798.4 293.2,802.1 294.7,799.5 298.1,803.1 303.6,805.7 309.1,808.4 313.7,810.4 319.2,813.5 324.6,816.6 332.4,820.8 341.8,825.5 344.6,830.2 486.5,830.2" fill="none" stroke="#ff0000" stroke-width="1.1" stroke-linejoin="round"/>
<polyline points="568.5,830.3 993.5,830.3" fill="none" stroke="#ff0000" stroke-width="1.1" stroke-linejoin="round"/>
<g fill="#ff0000">
<rect x="603.6" y="312.98" width="4.5" height="3.6"/>
<rect x="618.2" y="321.57" width="15" height="3.6"/>
<rect x="668.2" y="321.57" width="3.7" height="3.6"/>
<rect x="566.7" y="330.17" width="10.5" height="3.6"/>
<rect x="606.3" y="330.17" width="13.7" height="3.6"/>
<rect x="628.2" y="330.17" width="3.8" height="3.6"/>
<rect x="667.1" y="330.17" width="3.4" height="3.6"/>
<rect x="575.3" y="338.76" width="3.7" height="3.6"/>
<rect x="631.3" y="338.76" width="3.7" height="3.6"/>
<rect x="670.1" y="338.76" width="5.9" height="3.6"/>
<rect x="577.2" y="347.36" width="10.4" height="3.6"/>
<rect x="640.2" y="347.36" width="7.8" height="3.6"/>
<rect x="592.9" y="355.95" width="3.4" height="3.6"/>
<rect x="578.3" y="364.54" width="3.4" height="3.6"/>
<rect x="585.8" y="364.54" width="3.2" height="3.6"/>
<rect x="599.2" y="364.54" width="6.2" height="3.6"/>
<rect x="586.9" y="373.14" width="12.2" height="3.6"/>
<rect x="634.3" y="373.14" width="8" height="3.6"/>
<rect x="646" y="373.14" width="6.8" height="3.6"/>
<rect x="597.2" y="381.73" width="3.6" height="3.6"/>
<rect x="633" y="381.73" width="3.4" height="3.6"/>
<rect x="650.7" y="381.73" width="18.1" height="3.6"/>
<rect x="588.5" y="398.92" width="3.5" height="3.6"/>
<rect x="733.2" y="330.17" width="6.7" height="3.6"/>
<rect x="755.3" y="330.17" width="3.4" height="3.6"/>
<rect x="760.1" y="330.17" width="3" height="3.6"/>
<rect x="770.3" y="330.17" width="10.3" height="3.6"/>
<rect x="674" y="338.76" width="27.1" height="3.6"/>
<rect x="749.8" y="338.76" width="20.5" height="3.6"/>
<rect x="772.1" y="338.76" width="5.8" height="3.6"/>
<rect x="779.2" y="338.76" width="4.8" height="3.6"/>
<rect x="748.2" y="347.36" width="3.4" height="3.6"/>
<rect x="769" y="347.36" width="3.1" height="3.6"/>
<rect x="780.9" y="347.36" width="3.1" height="3.6"/>
<rect x="706.8" y="364.54" width="4.8" height="3.6"/>
<rect x="729.1" y="364.54" width="6.1" height="3.6"/>
<rect x="702" y="373.14" width="4.1" height="3.6"/>
<rect x="744.8" y="373.14" width="4.1" height="3.6"/>
<rect x="699.3" y="381.73" width="9.1" height="3.6"/>
<rect x="714.3" y="381.73" width="8.6" height="3.6"/>
<rect x="724.6" y="381.73" width="6.1" height="3.6"/>
<rect x="738" y="381.73" width="11.8" height="3.6"/>
<rect x="709.9" y="390.32" width="8.9" height="3.6"/>
<rect x="721.6" y="390.32" width="4.3" height="3.6"/>
<rect x="738.9" y="407.51" width="3.7" height="3.6"/>
<rect x="789.2" y="330.17" width="3.7" height="3.6"/>
<rect x="805.5" y="330.17" width="3.6" height="3.6"/>
<rect x="822" y="330.17" width="4.8" height="3.6"/>
<rect x="835" y="330.17" width="3.4" height="3.6"/>
<rect x="842.8" y="330.17" width="3.2" height="3.6"/>
<rect x="848.3" y="330.17" width="3.7" height="3.6"/>
<rect x="857.4" y="330.17" width="17.8" height="3.6"/>
<rect x="877" y="330.17" width="30.8" height="3.6"/>
<rect x="782" y="338.76" width="41.7" height="3.6"/>
<rect x="825" y="338.76" width="33.8" height="3.6"/>
<rect x="860.2" y="338.76" width="3.5" height="3.6"/>
<rect x="873.8" y="338.76" width="4.5" height="3.6"/>
<rect x="949.2" y="312.98" width="31" height="3.6"/>
<rect x="968.2" y="321.57" width="3.5" height="3.6"/>
<rect x="928" y="330.17" width="7.8" height="3.6"/>
<rect x="937.1" y="330.17" width="4.8" height="3.6"/>
<rect x="962" y="330.17" width="3.8" height="3.6"/>
<rect x="898.6" y="338.76" width="3.4" height="3.6"/>
<rect x="906.1" y="338.76" width="23.8" height="3.6"/>
<rect x="934" y="338.76" width="4.9" height="3.6"/>
<rect x="940.3" y="338.76" width="10.5" height="3.6"/>
<rect x="984" y="338.76" width="3.7" height="3.6"/>
<rect x="946" y="347.36" width="3.2" height="3.6"/>
<rect x="978.1" y="347.36" width="15.8" height="3.6"/>
<rect x="979.9" y="355.95" width="3.3" height="3.6"/>
</g>
</svg>
</body></html>
